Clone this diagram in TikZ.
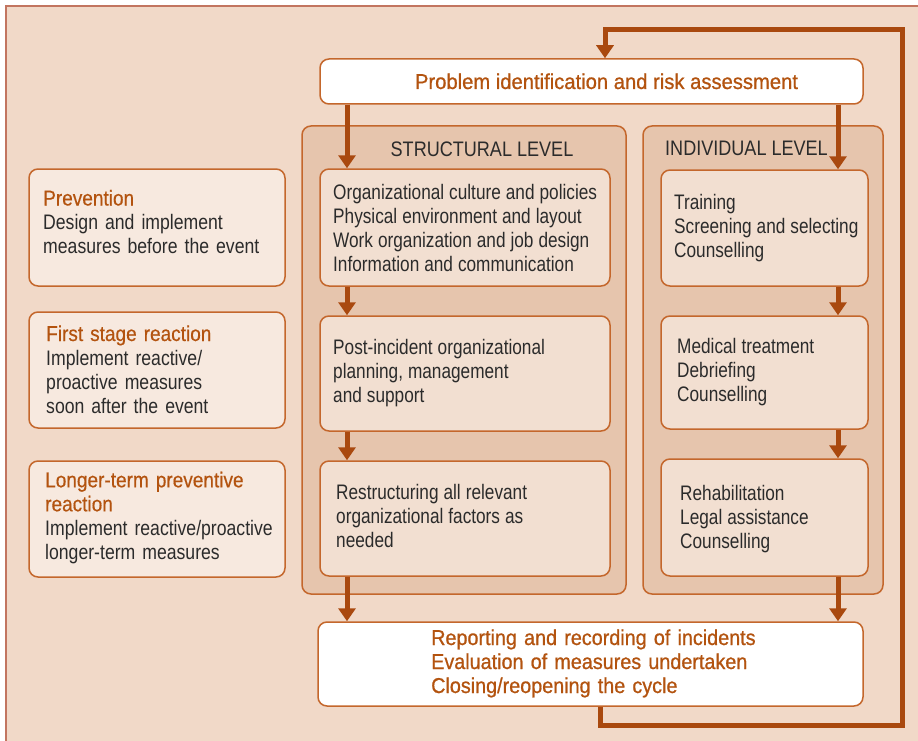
\documentclass[tikz,border=0pt]{standalone}
\usepackage{fontspec}
\setmainfont{Liberation Sans}
\newfontfamily\bodyf{Liberation Sans}[FakeStretch=0.82]
\newfontfamily\leftf{Liberation Sans}[FakeStretch=0.84]
\newfontfamily\lvlf{Liberation Sans}[FakeStretch=0.86]
\newfontfamily\headf{Liberation Sans}[FakeStretch=0.94,FakeBold=0.8]
\newfontfamily\headbf{Liberation Sans}[FakeStretch=0.92,FakeBold=0.8]
\newfontfamily\headlf{Liberation Sans}[FakeStretch=0.885,FakeBold=0.4]
\newcommand{\bodyfs}{\bodyf\fontsize{21}{24}\selectfont}
\newcommand{\leftfs}{\leftf\fontsize{21}{24}\selectfont}
\newcommand{\hd}[1]{{\color{orangetxt}\headlf\fontsize{21.5}{24}\selectfont #1}}
\usetikzlibrary{arrows.meta,calc}
\definecolor{bgc}{HTML}{F1D9C8}
\definecolor{framec}{HTML}{C27560}
\definecolor{panelc}{HTML}{E6C5AD}
\definecolor{innerc}{HTML}{F2DFD1}
\definecolor{leftc}{HTML}{F7E9DF}
\definecolor{edgec}{HTML}{C4672C}
\definecolor{arrc}{HTML}{A9490F}
\definecolor{orangetxt}{HTML}{B3530F}
\definecolor{darktxt}{HTML}{2B2B2B}
\tikzset{
  boxbase/.style={draw=edgec, line width=1.5pt, rounded corners=9pt, inner sep=0pt},
  whitebox/.style={boxbase, fill=white},
  panelbox/.style={boxbase, fill=panelc},
  innerbox/.style={boxbase, fill=innerc},
  leftbox/.style={boxbase, fill=leftc},
  arr/.style={draw=arrc, line width=5pt, line join=miter, -{Triangle[width=17pt,length=13pt]}},
  txtbody/.style={inner sep=0pt, text width=300pt, align=left, text=darktxt, font=\bodyfs,
    execute at begin node={\spaceskip=5pt plus 1pt minus 1pt\relax}},
  txtleft/.style={inner sep=0pt, text width=300pt, align=left, text=darktxt, font=\leftfs},
  txthead/.style={inner sep=0pt, text=orangetxt, font=\headf\fontsize{21.5}{24}\selectfont},
  txtheadb/.style={inner sep=0pt, text width=450pt, align=left, text=orangetxt, font=\headbf\fontsize{21.5}{24}\selectfont},
  txtlvl/.style={inner sep=0pt, text=darktxt, font=\lvlf\fontsize{21}{24}\selectfont},
}
\begin{document}
\begin{tikzpicture}[x=1pt,y=-1pt]
\useasboundingbox (0,0) rectangle (918,741);
\fill[bgc] (6,6) rectangle (918,741);
\draw[framec, line width=2pt] (6,741) -- (6,6) -- (918,6);

% panels
\node[panelbox, minimum width=324pt, minimum height=468pt] (sp) at (464,360) {};
\node[panelbox, minimum width=240pt, minimum height=468pt] (ip) at (763,360) {};
\node[txtlvl, anchor=base] (spT) at (482,157) {STRUCTURAL LEVEL};
\node[txtlvl, anchor=base] (ipT) at (746.5,156) {INDIVIDUAL LEVEL};

% top and bottom boxes
\node[whitebox, minimum width=543pt, minimum height=45pt] (top) at (591.5,81.5) {};
\node[whitebox, minimum width=545pt, minimum height=84pt] (bot) at (590.5,664) {};
\node[txthead, anchor=base] (topT) at (606.5,89) {Problem identification and risk assessment};
\node[txtheadb, anchor=base west] (botT) at (431,645) {Reporting and recording of incidents\\Evaluation of measures undertaken\\Closing/reopening the cycle};

% structural boxes
\node[innerbox, minimum width=290pt, minimum height=117pt] (s1) at (465,227.5) {};
\node[innerbox, minimum width=290pt, minimum height=115pt] (s2) at (465,373.5) {};
\node[innerbox, minimum width=290pt, minimum height=115pt] (s3) at (465,518.5) {};
\node[txtbody, anchor=base west] (s1T) at (333,199) {Organizational culture and policies\\Physical environment and layout\\Work organization and job design\\Information and communication};
\node[txtbody, anchor=base west] (s2T) at (333,354) {Post-incident organizational\\planning, management\\and support};
\node[txtbody, anchor=base west] (s3T) at (336,499) {Restructuring all relevant\\organizational factors as\\needed};

% individual boxes
\node[innerbox, minimum width=207pt, minimum height=116pt] (i1) at (764.5,228) {};
\node[innerbox, minimum width=207pt, minimum height=113pt] (i2) at (764.5,372.5) {};
\node[innerbox, minimum width=207pt, minimum height=117pt] (i3) at (764.5,517.5) {};
\node[txtbody, anchor=base west] (i1T) at (674,209) {Training\\Screening and selecting\\Counselling};
\node[txtbody, anchor=base west] (i2T) at (677,353) {Medical treatment\\Debriefing\\Counselling};
\node[txtbody, anchor=base west] (i3T) at (680,500) {Rehabilitation\\Legal assistance\\Counselling};

% left boxes
\node[leftbox, minimum width=256pt, minimum height=117pt] (l1) at (157,227.5) {};
\node[leftbox, minimum width=256pt, minimum height=116pt] (l2) at (157,370) {};
\node[leftbox, minimum width=256pt, minimum height=116pt] (l3) at (157,519) {};
\node[txtleft, anchor=base west] (l1T) at (43,205.5) {\hd{Prevention}\\Design and implement\\measures before the event};
\node[txtleft, anchor=base west] (l2T) at (46,341) {\hd{First stage reaction}\\Implement reactive/\\proactive measures\\soon after the event};
\node[txtleft, anchor=base west] (l3T) at (45,487.3) {\hd{Longer-term preventive}\\\hd{reaction}\\Implement reactive/proactive\\longer-term measures};

% arrow columns
\coordinate (cs) at (347,0);
\coordinate (ci) at (838,0);
\draw[arr] (top.south -| cs) -- (s1.north -| cs);
\draw[arr] (s1.south -| cs) -- (s2.north -| cs);
\draw[arr] (s2.south -| cs) -- (s3.north -| cs);
\draw[arr] (s3.south -| cs) -- (bot.north -| cs);
\draw[arr] (top.south -| ci) -- (i1.north -| ci);
\draw[arr] (i1.south -| ci) -- (i2.north -| ci);
\draw[arr] (i2.south -| ci) -- (i3.north -| ci);
\draw[arr] (i3.south -| ci) -- (bot.north -| ci);

% feedback loop
\coordinate (lpB) at (600,725);
\coordinate (lpR) at (902,725);
\coordinate (lpT) at (902,30);
\coordinate (lpL) at (605,30);
\draw[arr] (bot.south -| lpB) -- (lpB) -- (lpR) -- (lpT) -- (lpL) -- (top.north -| lpL);
\end{tikzpicture}
\end{document}
